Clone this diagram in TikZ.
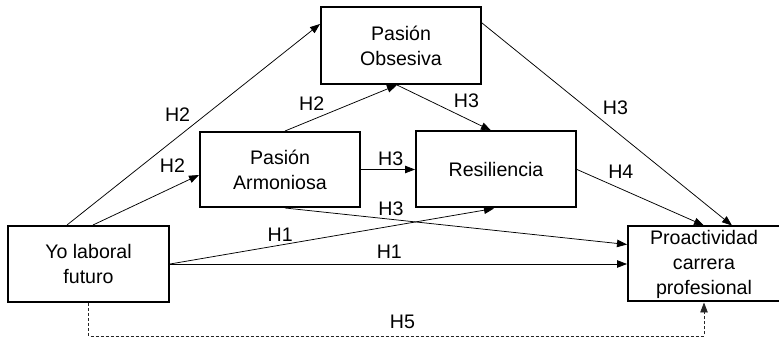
\documentclass[tikz,border=0pt]{standalone}
\usepackage{fontspec}
\setmainfont{Liberation Sans}
\usetikzlibrary{arrows.meta, positioning}

\tikzset{
  varbox/.style={draw, rectangle, line width=2pt, align=center, minimum width=160pt, minimum height=76pt, inner sep=2pt, font=\fontsize{19.6}{25}\selectfont},
  hyp/.style={font=\fontsize{19.6}{23}\selectfont, inner sep=3pt},
  link/.style={line width=0.75pt, -{Triangle[length=10pt, width=7.5pt]}}
}

\begin{document}
\begin{tikzpicture}[x=1pt, y=1pt]
        \useasboundingbox (0,0) rectangle (779,337);
        % Model of hypotheses H1--H5
        \node[varbox, minimum width=161pt] (yo) at (88.5,73) {Yo laboral\\futuro};
        \node[varbox, minimum width=152pt, minimum height=75pt, right=457pt of yo] (proac) {Proactividad\\carrera\\profesional};
        \node[varbox, minimum height=75pt, above right=17pt and 29pt of yo] (armon) {Pasión\\Armoniosa};
        \node[varbox, right=54pt of armon] (resil) {Resiliencia};
        \node[varbox, minimum height=77pt, above right=46pt and -41pt of armon] (obses) {Pasión\\Obsesiva};

        \draw[link] ([xshift=-21.5pt]yo.north) -- node[hyp, pos=0.5, above left] {H2} ([yshift=21.5pt]obses.west);
        \draw[link] ([xshift=4.5pt]yo.north) -- node[hyp, pos=0.9, above left, yshift=4pt] {H2} ([yshift=-5.5pt]armon.west);
        \draw[link] ([xshift=5pt]armon.north) -- node[hyp, pos=0.38, above left] {H2} ([xshift=-4pt]obses.south);
        \draw[link] ([xshift=-4pt]obses.south) -- node[hyp, pos=0.57, above right] {H3} ([xshift=-5pt]resil.north);
        \draw[link] ([yshift=22.5pt]obses.east) -- node[hyp, pos=0.47, above right] {H3} ([xshift=28pt]proac.north);
        \draw[link] (armon.east) -- node[hyp, pos=0.55, above] {H3} (resil.west);
        \draw[link] ([xshift=5pt]armon.south) -- node[hyp, pos=0.31, above] {H3} ([yshift=19.5pt]proac.west);
        \draw[link] (yo.east) -- node[hyp, pos=0.34, above] {H1} ([xshift=-2pt]resil.south);
        \draw[link] (yo.east) -- node[hyp, pos=0.48, above, yshift=2pt] {H1} (proac.west);
        \draw[link] (resil.east) -- node[hyp, pos=0.22, above right] {H4} (proac.north);
        \draw[link, dash pattern=on 3pt off 2pt, black!85] (yo.south) -- ++(0,-33) -| node[hyp, pos=0.255, above, yshift=4pt, text=black] {H5} (proac.south);
    \end{tikzpicture}
\end{document}
